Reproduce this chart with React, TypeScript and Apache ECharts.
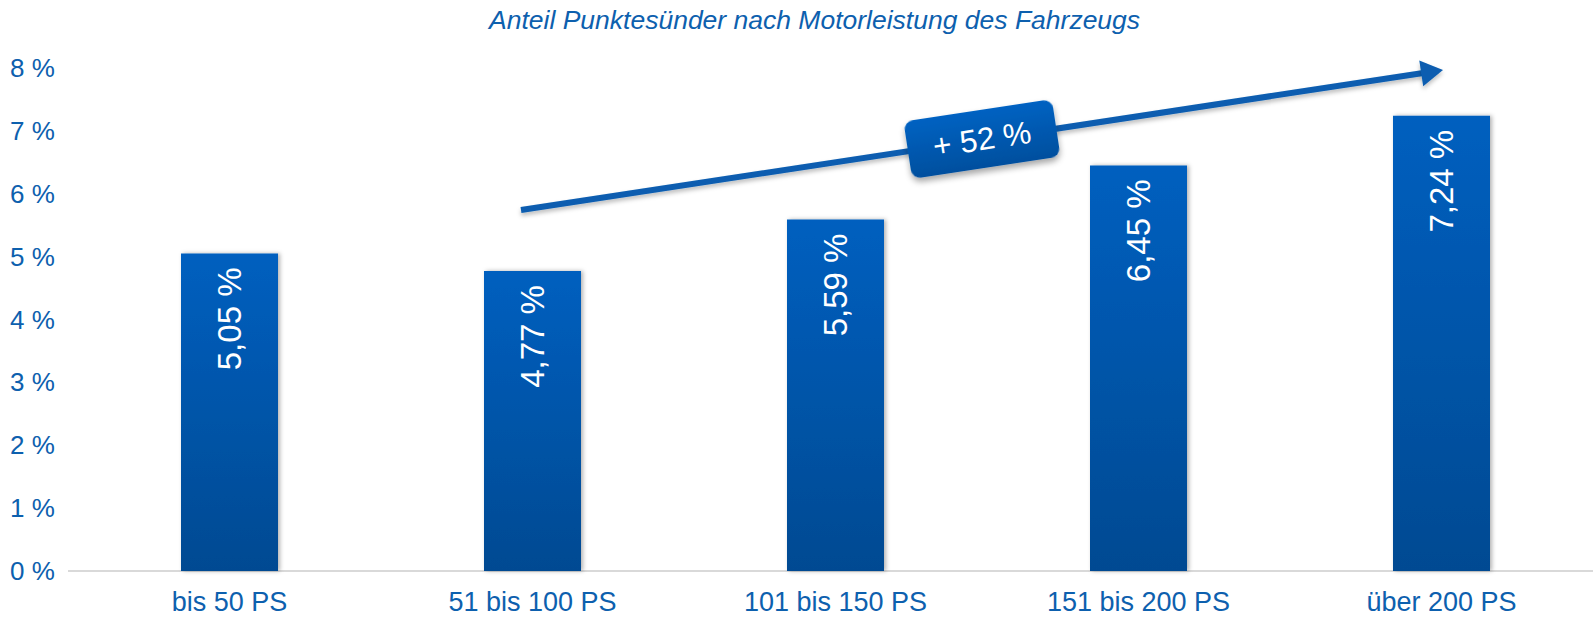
import React, { useEffect, useRef } from "react";
import * as echarts from "echarts";

const categories = ["bis 50 PS", "51 bis 100 PS", "101 bis 150 PS", "151 bis 200 PS", "über 200 PS"];
const shares = [5.05, 4.77, 5.59, 6.45, 7.24];
const yTicks = { min: 0, max: 8, interval: 1 };
const titleText = "Anteil Punktesünder nach Motorleistung des Fahrzeugs";
const growthText = "+ 52 %";

const FONT = "'Liberation Sans', Arial, sans-serif";
const BLUE_TEXT = "#0d60ae";

export default function App() {
  const ref = useRef<HTMLDivElement>(null);
  useEffect(() => {
    if (!ref.current) return;
    const chart = echarts.init(ref.current, null, { renderer: "svg" });

    const tip = [1443, 70];
    const start = [521, 210];
    const dx = tip[0] - start[0];
    const dy = tip[1] - start[1];
    const len = Math.sqrt(dx * dx + dy * dy);
    const ux = dx / len, uy = dy / len;
    const nx = -uy, ny = ux;
    const headLen = 22, headHalf = 13;
    const bx = tip[0] - ux * headLen, by = tip[1] - uy * headLen;
    const angle = Math.atan2(-dy, dx);
    const cx = 982, cy = 139;

    const barGradient = new echarts.graphic.LinearGradient(0, 0, 0, 1, [
      { offset: 0, color: "#005fbf" },
      { offset: 1, color: "#034a92" },
    ]);

    chart.setOption({
      animation: false,
      title: {
        text: titleText,
        left: 484,
        top: 1,
        textStyle: { fontFamily: FONT, fontStyle: "italic", fontWeight: "normal", fontSize: 26.5, color: BLUE_TEXT },
      },
      grid: { left: 78, right: 0, top: 68, bottom: 46 },
      xAxis: {
        type: "category",
        data: categories,
        axisLine: { show: false },
        axisTick: { show: false },
        axisLabel: { fontFamily: FONT, fontSize: 27, color: BLUE_TEXT, margin: 17 },
      },
      yAxis: {
        type: "value",
        min: yTicks.min,
        max: yTicks.max,
        interval: yTicks.interval,
        splitLine: { show: false },
        axisLine: { show: false },
        axisTick: { show: false },
        axisLabel: {
          fontFamily: FONT,
          fontSize: 26,
          color: BLUE_TEXT,
          align: "left",
          margin: 68,
          formatter: (v: number) => `${v} %`,
        },
      },
      series: [
        {
          type: "bar",
          data: shares,
          barWidth: 97,
          itemStyle: {
            color: barGradient,
            shadowColor: "rgba(0,0,0,0.3)",
            shadowBlur: 4,
            shadowOffsetX: 2,
          },
          label: {
            show: true,
            position: "insideTop",
            rotate: 90,
            align: "right",
            verticalAlign: "middle",
            distance: 14,
            color: "#ffffff",
            fontFamily: FONT,
            fontSize: 33,
            formatter: (p: any) => `${p.value.toFixed(2).replace(".", ",")} %`,
          },
        },
      ],
      graphic: [
        {
          type: "line",
          shape: { x1: 68, y1: 571, x2: 1593, y2: 571 },
          style: { stroke: "#d9d9d9", lineWidth: 2 },
          z: 1,
        },
        {
          type: "line",
          shape: { x1: start[0], y1: start[1], x2: bx + ux * 2, y2: by + uy * 2 },
          style: { stroke: "#0a5db0", lineWidth: 6, shadowColor: "rgba(0,0,0,0.25)", shadowBlur: 4, shadowOffsetY: 3 },
          z: 10,
        },
        {
          type: "polygon",
          shape: {
            points: [
              [tip[0], tip[1]],
              [bx + nx * headHalf, by + ny * headHalf],
              [bx - nx * headHalf, by - ny * headHalf],
            ],
          },
          style: { fill: "#0a5db0", shadowColor: "rgba(0,0,0,0.25)", shadowBlur: 4, shadowOffsetY: 3 },
          z: 10,
        },
        {
          type: "group",
          x: cx,
          y: cy,
          rotation: angle,
          z: 11,
          children: [
            {
              type: "rect",
              shape: { x: -75, y: -29, width: 150, height: 58, r: 9 },
              style: {
                fill: new echarts.graphic.LinearGradient(0, 0, 0, 1, [
                  { offset: 0, color: "#0062c2" },
                  { offset: 1, color: "#014f9e" },
                ]),
                shadowColor: "rgba(0,0,0,0.35)",
                shadowBlur: 6,
                shadowOffsetY: 4,
              },
              z: 11,
            },
            {
              type: "text",
              x: 0,
              y: 0,
              style: {
                text: growthText,
                x: 0,
                y: 0,
                align: "center",
                verticalAlign: "middle",
                fill: "#ffffff",
                fontFamily: FONT,
                fontSize: 31.5,
              },
              z: 12,
            },
          ],
        },
      ],
    });
    return () => chart.dispose();
  }, []);
  return (
    <div
      ref={ref}
      style={{ position: "absolute", left: 0, top: 0, width: 1593, height: 617, background: "#ffffff" }}
    />
  );
}
